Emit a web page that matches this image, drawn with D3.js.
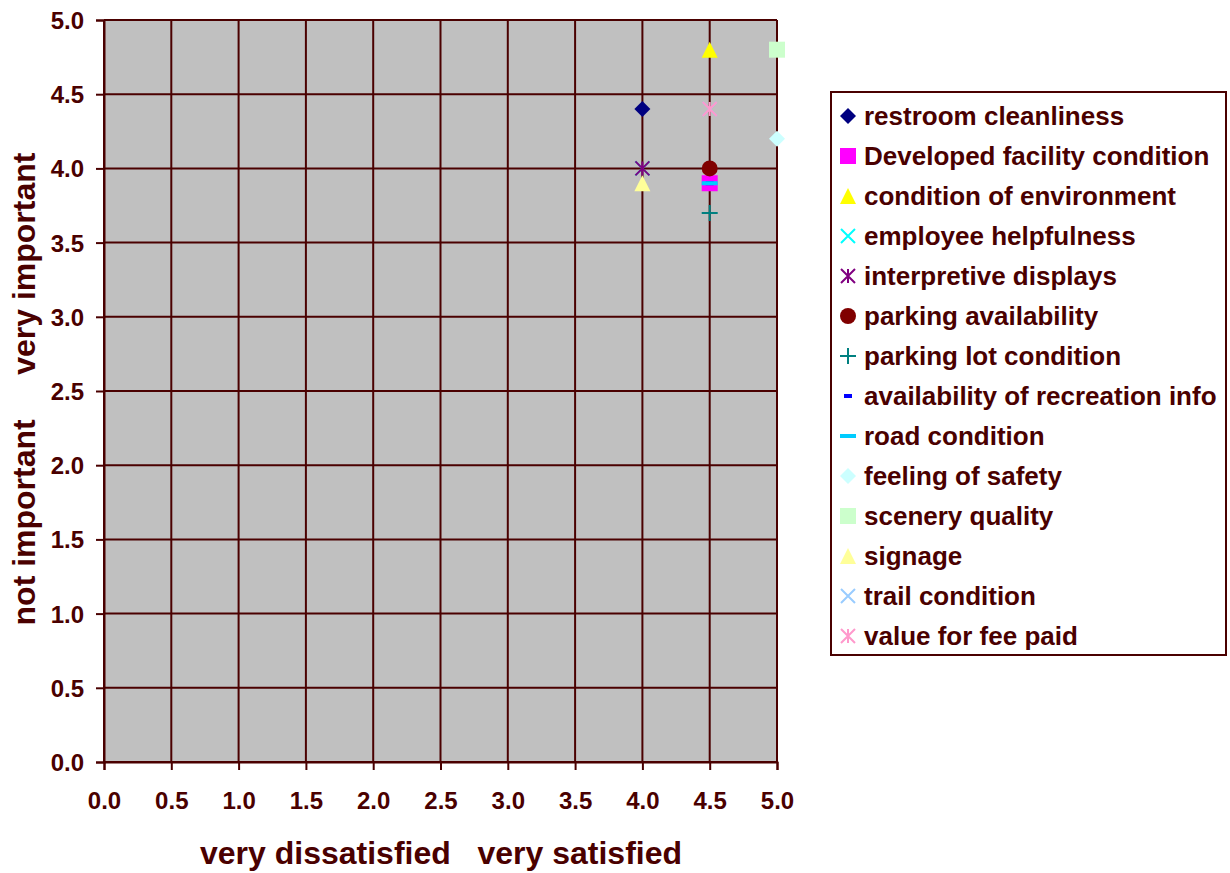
<!DOCTYPE html>
<html>
<head>
<meta charset="utf-8">
<script src="https://cdn.jsdelivr.net/npm/d3@7"></script>
<style>
  html, body { margin: 0; padding: 0; background: #ffffff; }
  svg { display: block; }
  text { font-family: "Liberation Sans", Arial, sans-serif; font-weight: bold; fill: #4a0000; }
</style>
</head>
<body>
<svg id="chart" width="1230" height="873"></svg>
<script>
// Survey attributes: satisfaction (x) vs importance (y)
const categories = [
  "restroom cleanliness",
  "Developed facility condition",
  "condition of environment",
  "employee helpfulness",
  "interpretive displays",
  "parking availability",
  "parking lot condition",
  "availability of recreation info",
  "road condition",
  "feeling of safety",
  "scenery quality",
  "signage",
  "trail condition",
  "value for fee paid"
];
const satisfaction = [4.0, 4.5, 4.5, 4.0, 4.0, 4.5, 4.5, 4.5, 4.5, 5.0, 5.0, 4.0, 4.5, 4.5];
const importance   = [4.4, 3.9, 4.8, 4.0, 4.0, 4.0, 3.7, 3.9, 3.9, 4.2, 4.8, 3.9, 4.4, 4.4];
const markerShapes = ["diamond", "square", "triangle", "x", "star", "circle", "plus", "dashSmall", "dash", "diamond", "square", "triangle", "x", "star"];
const markerColors = ["#000080", "#ff00ff", "#ffff00", "#00ffff", "#800080", "#800000", "#008080", "#0000ff", "#00ccff", "#ccffff", "#ccffcc", "#ffff99", "#99ccff", "#ff99cc"];
const tickValues = [0, 0.5, 1, 1.5, 2, 2.5, 3, 3.5, 4, 4.5, 5];
const xTitle = "very dissatisfied   very satisfied";
const yTitle = "not important     very important";

const svg = d3.select("#chart");
const ink = "#4a0000";
const plot = { left: 104, top: 20, right: 777, bottom: 762 };

const x = d3.scaleLinear().domain([0, 5]).range([plot.left, plot.right]);
const y = d3.scaleLinear().domain([0, 5]).range([plot.bottom, plot.top]);

// plot background
svg.append("rect")
  .attr("x", plot.left).attr("y", plot.top)
  .attr("width", plot.right - plot.left).attr("height", plot.bottom - plot.top)
  .attr("fill", "#c0c0c0");

// gridlines
svg.append("g").selectAll("line").data(tickValues).join("line")
  .attr("x1", d => x(d)).attr("x2", d => x(d))
  .attr("y1", plot.top).attr("y2", plot.bottom)
  .attr("stroke", ink).attr("stroke-width", 2);
svg.append("g").selectAll("line").data(tickValues).join("line")
  .attr("y1", d => y(d)).attr("y2", d => y(d))
  .attr("x1", plot.left).attr("x2", plot.right)
  .attr("stroke", ink).attr("stroke-width", 2);

// axes
const fmt = d3.format(".1f");
const xAxis = svg.append("g").attr("transform", `translate(0,${plot.bottom})`)
  .call(d3.axisBottom(x).tickValues(tickValues).tickFormat(fmt).tickSize(8).tickPadding(22));
const yAxis = svg.append("g").attr("transform", `translate(${plot.left},0)`)
  .call(d3.axisLeft(y).tickValues(tickValues).tickFormat(fmt).tickSize(8).tickPadding(12));
[xAxis, yAxis].forEach(g => {
  g.select(".domain").attr("stroke", ink).attr("stroke-width", 2);
  g.selectAll(".tick line").attr("stroke", ink).attr("stroke-width", 2);
  g.selectAll(".tick text")
    .attr("fill", ink).style("font-size", "24px")
    .style("font-family", "'Liberation Sans', Arial, sans-serif").style("font-weight", "bold");
});
yAxis.selectAll(".tick text").attr("dy", "0.35em");
xAxis.selectAll(".tick text").attr("dy", "0.35em").attr("y", 39);

// axis titles
svg.append("text").attr("x", 441).attr("y", 864)
  .attr("text-anchor", "middle").style("font-size", "32px")
  .style("white-space", "pre")
  .text(xTitle);
svg.append("text")
  .attr("transform", `translate(35,389) rotate(-90)`)
  .attr("text-anchor", "middle").style("font-size", "32px")
  .style("white-space", "pre")
  .text(yTitle);

// marker drawing
function drawMarker(g, shape, color) {
  const s = 8;
  switch (shape) {
    case "diamond":
      g.append("path").attr("d", `M0,${-s}L${s},0L0,${s}L${-s},0Z`).attr("fill", color);
      break;
    case "square":
      g.append("rect").attr("x", -s).attr("y", -s).attr("width", 2 * s).attr("height", 2 * s).attr("fill", color);
      break;
    case "triangle":
      g.append("path").attr("d", `M0,${-s}L${s},${s}L${-s},${s}Z`).attr("fill", color);
      break;
    case "circle":
      g.append("circle").attr("r", s).attr("fill", color);
      break;
    case "x":
      g.append("path").attr("d", `M${-s + 1},${-s + 1}L${s - 1},${s - 1}M${s - 1},${-s + 1}L${-s + 1},${s - 1}`)
        .attr("stroke", color).attr("stroke-width", 2).attr("fill", "none");
      break;
    case "star":
      g.append("path").attr("d", `M${-s + 1},${-s + 1}L${s - 1},${s - 1}M${s - 1},${-s + 1}L${-s + 1},${s - 1}M0,${-s + 1}L0,${s - 1}`)
        .attr("stroke", color).attr("stroke-width", 2).attr("fill", "none");
      break;
    case "plus":
      g.append("path").attr("d", `M${-s},0L${s},0M0,${-s}L0,${s}`)
        .attr("stroke", color).attr("stroke-width", 2).attr("fill", "none");
      break;
    case "dashSmall":
      g.append("rect").attr("x", -4).attr("y", -2).attr("width", 8).attr("height", 4).attr("fill", color);
      break;
    case "dash":
      g.append("rect").attr("x", -s).attr("y", -2).attr("width", 2 * s).attr("height", 4).attr("fill", color);
      break;
  }
}

// data points, drawn in series order
const pts = svg.append("g");
categories.forEach((c, i) => {
  const g = pts.append("g").attr("transform", `translate(${x(satisfaction[i])},${y(importance[i])})`);
  drawMarker(g, markerShapes[i], markerColors[i]);
});

// legend
const legend = svg.append("g");
legend.append("rect").attr("x", 831).attr("y", 92).attr("width", 395).attr("height", 563)
  .attr("fill", "#ffffff").attr("stroke", ink).attr("stroke-width", 2);
const rowY = d3.scalePoint().domain(categories).range([116, 636]);
categories.forEach((c, i) => {
  const row = legend.append("g").attr("transform", `translate(0,${rowY(c)})`);
  const mg = row.append("g").attr("transform", `translate(848,0)`);
  drawMarker(mg, markerShapes[i], markerColors[i]);
  row.append("text").attr("x", 864).attr("y", 0).attr("dy", "0.35em")
    .style("font-size", "26px").text(c);
});
</script>
</body>
</html>
